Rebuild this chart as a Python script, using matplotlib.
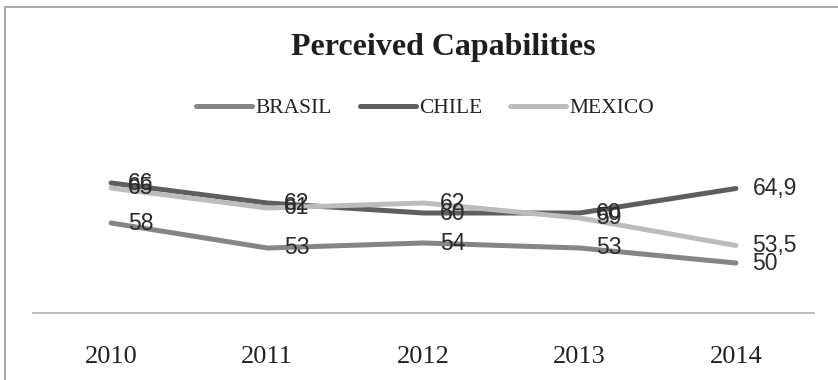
import matplotlib
matplotlib.use("Agg")
import matplotlib.pyplot as plt
from matplotlib.lines import Line2D
from matplotlib.patches import Rectangle

years = ["2010", "2011", "2012", "2013", "2014"]
series_names = ["BRASIL", "CHILE", "MEXICO"]
brasil = [58, 53, 54, 53, 50]
chile = [66, 62, 60, 60, 64.9]
mexico = [65, 61, 62, 59, 53.5]
series_values = [brasil, chile, mexico]
colors = ["#858585", "#5e5e5e", "#bcbcbc"]

W, H = 838, 380
fig = plt.figure(figsize=(W / 100, H / 100), dpi=100)
fig.patch.set_facecolor("white")

# outer chart frame (cropped at right and bottom)
fig.patches.append(Rectangle((4.5 / W, -0.1), 1.2, (1 - 7 / H) + 0.1,
                             transform=fig.transFigure, fill=False,
                             edgecolor="#9a9a9a", linewidth=1.2))

ax = fig.add_axes([33 / W, 1 - 313 / H, (814 - 33) / W, (313 - 163) / H])
x = list(range(len(years)))
for name, vals, c in zip(series_names, series_values, colors):
    ax.plot(x, vals, color=c, linewidth=3.6, solid_capstyle="round",
            solid_joinstyle="round", label=name)

for vals in series_values:
    for xi, v in zip(x, vals):
        ax.annotate(f"{v:g}".replace(".", ","), (xi, v), xytext=(12, 0),
                    textcoords="offset points", va="center", ha="left",
                    fontsize=16.5, family="Liberation Sans", color="#2b2b2b")

ax.set_xlim(-0.5, len(years) - 0.5)
ax.set_ylim(40, 70)
ax.set_yticks([])
ax.set_xticks(x, years)
ax.tick_params(axis="x", length=0, pad=24, labelsize=19, labelcolor="#222222")
for lab in ax.get_xticklabels():
    lab.set_family("Liberation Serif")
for s in ["top", "right", "left"]:
    ax.spines[s].set_visible(False)
ax.spines["bottom"].set_color("#b0b0b0")
ax.spines["bottom"].set_linewidth(1.2)
ax.patch.set_alpha(0)

fig.text(443 / W, 1 - 48 / H, "Perceived Capabilities", ha="center", va="center",
         fontsize=23, fontweight="bold", family="Liberation Serif", color="#1e1e1e")

handles = [Line2D([0], [0], color=c, linewidth=3.6, solid_capstyle="round")
           for c in colors]
fig.legend(handles, series_names, loc="center", bbox_to_anchor=(425 / W, 1 - 108 / H),
           ncol=3, frameon=False, handlelength=2.6, handletextpad=0.15,
           columnspacing=1.3, prop={"family": "Liberation Serif", "size": 15.5},
           labelcolor="#222222")

fig.savefig("out.png", dpi=100, facecolor="white")
